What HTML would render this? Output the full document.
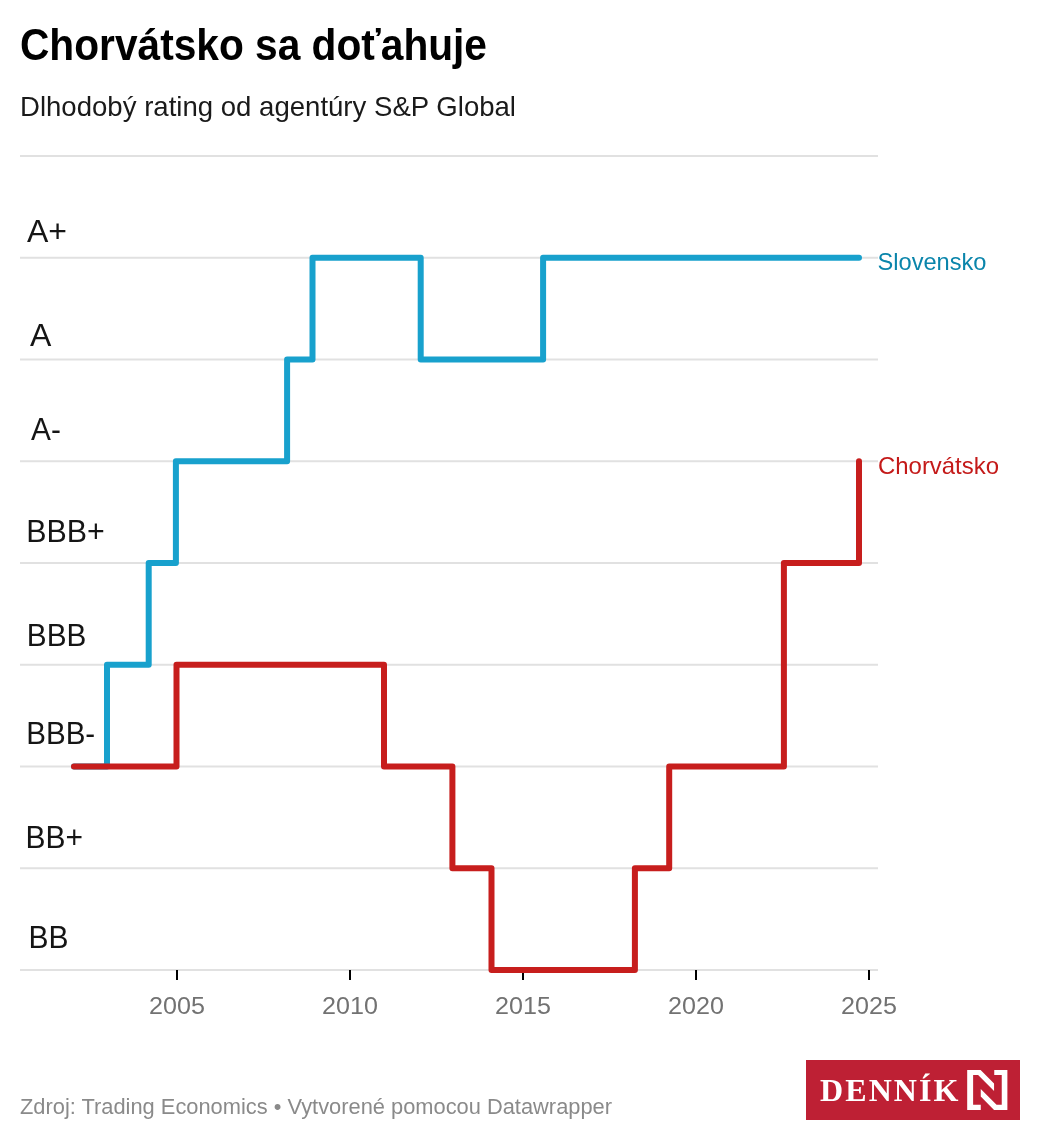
<!DOCTYPE html>
<html><head><meta charset="utf-8"><title>Chorvátsko sa doťahuje</title>
<style>html,body{margin:0;padding:0;background:#fff;}svg{display:block;will-change:transform;}</style></head>
<body><svg width="1040" height="1140" viewBox="0 0 1040 1140">
<rect width="1040" height="1140" fill="#fff"/>
<rect x="20" y="155" width="858" height="2" fill="#e1e1e1"/>
<rect x="20" y="256.75" width="858" height="2" fill="#e1e1e1"/>
<rect x="20" y="358.5" width="858" height="2" fill="#e1e1e1"/>
<rect x="20" y="460.25" width="858" height="2" fill="#e1e1e1"/>
<rect x="20" y="562" width="858" height="2" fill="#e1e1e1"/>
<rect x="20" y="663.75" width="858" height="2" fill="#e1e1e1"/>
<rect x="20" y="765.5" width="858" height="2" fill="#e1e1e1"/>
<rect x="20" y="867.25" width="858" height="2" fill="#e1e1e1"/>
<rect x="20" y="969" width="858" height="2" fill="#e1e1e1"/>
<rect x="176" y="970" width="2" height="10" fill="#000"/>
<rect x="349" y="970" width="2" height="10" fill="#000"/>
<rect x="522" y="970" width="2" height="10" fill="#000"/>
<rect x="695" y="970" width="2" height="10" fill="#000"/>
<rect x="868" y="970" width="2" height="10" fill="#000"/>
<polyline points="74,766.5 107,766.5 107,664.75 148.7,664.75 148.7,563 175.9,563 175.9,461.25 287.1,461.25 287.1,359.5 312.5,359.5 312.5,257.75 420.7,257.75 420.7,359.5 543.1,359.5 543.1,257.75 859,257.75" fill="none" stroke="#18a1cd" stroke-width="6" stroke-linejoin="round" stroke-linecap="round"/>
<polyline points="74,766.5 176.5,766.5 176.5,664.75 384,664.75 384,766.5 452.4,766.5 452.4,868.25 491.5,868.25 491.5,970 634.9,970 634.9,868.25 669.2,868.25 669.2,766.5 783.9,766.5 783.9,563 859,563 859,461.25" fill="none" stroke="#c71e1d" stroke-width="6" stroke-linejoin="round" stroke-linecap="round"/>
<text x="20" y="60" font-family="Liberation Sans, sans-serif" font-size="44" font-weight="700" fill="#000" textLength="467" lengthAdjust="spacingAndGlyphs">Chorvátsko sa doťahuje</text>
<text x="20" y="115.6" font-family="Liberation Sans, sans-serif" font-size="28" fill="#1a1a1a" textLength="496" lengthAdjust="spacingAndGlyphs">Dlhodobý rating od agentúry S&amp;P Global</text>
<text x="27" y="241.7" font-family="Liberation Sans, sans-serif" font-size="32" fill="#151515">A+</text>
<text x="30.1" y="345.6" font-family="Liberation Sans, sans-serif" font-size="32" fill="#151515">A</text>
<text x="31" y="439.8" font-family="Liberation Sans, sans-serif" font-size="32" fill="#151515" textLength="29.8" lengthAdjust="spacingAndGlyphs">A-</text>
<text x="26.3" y="541.7" font-family="Liberation Sans, sans-serif" font-size="32" fill="#151515" textLength="78.5" lengthAdjust="spacingAndGlyphs">BBB+</text>
<text x="26.8" y="645.9" font-family="Liberation Sans, sans-serif" font-size="32" fill="#151515" textLength="59.5" lengthAdjust="spacingAndGlyphs">BBB</text>
<text x="26.2" y="743.85" font-family="Liberation Sans, sans-serif" font-size="32" fill="#151515" textLength="69" lengthAdjust="spacingAndGlyphs">BBB-</text>
<text x="25.6" y="847.8" font-family="Liberation Sans, sans-serif" font-size="32" fill="#151515" textLength="57.5" lengthAdjust="spacingAndGlyphs">BB+</text>
<text x="28.5" y="947.8" font-family="Liberation Sans, sans-serif" font-size="32" fill="#151515" textLength="40" lengthAdjust="spacingAndGlyphs">BB</text>
<text x="877.5" y="269.9" font-family="Liberation Sans, sans-serif" font-size="24" fill="#0a85ab" textLength="109" lengthAdjust="spacingAndGlyphs">Slovensko</text>
<text x="878" y="473.6" font-family="Liberation Sans, sans-serif" font-size="24" fill="#c41a19" textLength="121" lengthAdjust="spacingAndGlyphs">Chorvátsko</text>
<text x="177" y="1014" font-family="Liberation Sans, sans-serif" font-size="24" fill="#727272" textLength="55.9" lengthAdjust="spacingAndGlyphs" text-anchor="middle">2005</text>
<text x="350" y="1014" font-family="Liberation Sans, sans-serif" font-size="24" fill="#727272" textLength="55.9" lengthAdjust="spacingAndGlyphs" text-anchor="middle">2010</text>
<text x="523" y="1014" font-family="Liberation Sans, sans-serif" font-size="24" fill="#727272" textLength="55.9" lengthAdjust="spacingAndGlyphs" text-anchor="middle">2015</text>
<text x="696" y="1014" font-family="Liberation Sans, sans-serif" font-size="24" fill="#727272" textLength="55.9" lengthAdjust="spacingAndGlyphs" text-anchor="middle">2020</text>
<text x="869" y="1014" font-family="Liberation Sans, sans-serif" font-size="24" fill="#727272" textLength="55.9" lengthAdjust="spacingAndGlyphs" text-anchor="middle">2025</text>
<text x="20" y="1113.6" font-family="Liberation Sans, sans-serif" font-size="22" fill="#8a8a8a" textLength="592" lengthAdjust="spacingAndGlyphs">Zdroj: Trading Economics • Vytvorené pomocou Datawrapper</text>
<rect x="806" y="1060" width="214" height="60" fill="#be2034"/>
<text x="820" y="1100.8" font-family="Liberation Serif, serif" font-weight="700" font-size="32" fill="#fff" textLength="138.5" lengthAdjust="spacing">DENNÍK</text>
<polygon points="967.19,1070.00 980.62,1070.00 994.06,1083.44 994.06,1090.94 978.12,1075.12 973.12,1075.12 973.12,1104.69 980.75,1104.69 980.75,1110.00 967.19,1110.00" fill="#fff"/>
<polygon points="1007.38,1070.00 1007.38,1110.00 994.06,1110.00 980.75,1096.56 980.75,1088.88 996.56,1104.69 1001.75,1104.69 1001.75,1075.12 994.25,1075.12 994.25,1070.00" fill="#fff"/>
</svg></body></html>
